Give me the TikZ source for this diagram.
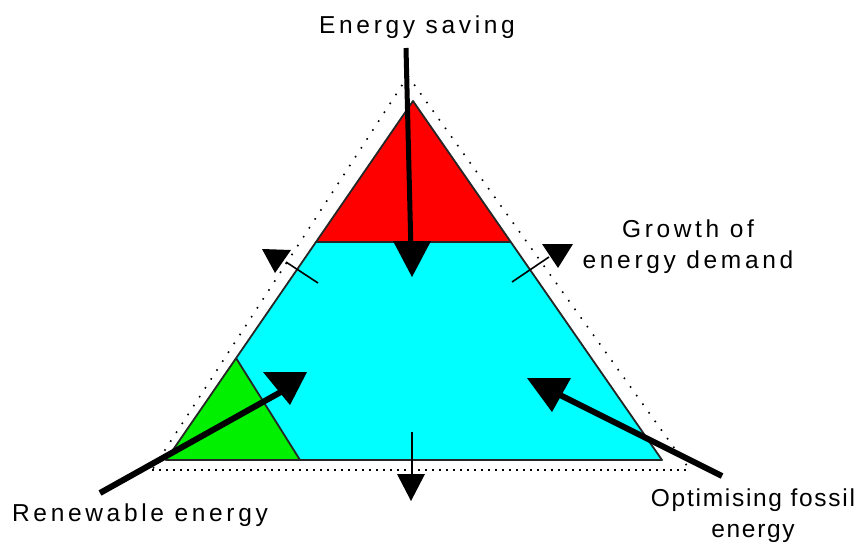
\documentclass[tikz,border=0pt]{standalone}
\usepackage{fontspec}
\setmainfont{Liberation Sans}[LetterSpace=15]
\newfontfamily\narrowlbl{Liberation Sans}[LetterSpace=7]
\definecolor{cyanfill}{RGB}{0,255,255}
\definecolor{redfill}{RGB}{255,0,0}
\definecolor{greenfill}{RGB}{0,240,0}
\begin{document}
\begin{tikzpicture}[x=1pt,y=-1pt,
  lbl/.style={font=\fontsize{24.5}{31}\selectfont, inner sep=0pt, align=center},
  nlbl/.style={font=\narrowlbl\fontsize{24.5}{31}\selectfont, inner sep=0pt, align=center},
  edge/.style={draw=black!85, line width=1.8pt, line join=round},
  dots/.style={draw=black, line width=1.6pt, dash pattern=on 1.6pt off 9pt},
  basedots/.style={draw=black, line width=1.8pt, dash pattern=on 2pt off 5pt},
  bigarrow/.style={draw=black, line width=6pt},
  thinarrow/.style={draw=black, line width=1.6pt},
  head/.style={fill=black}]
\useasboundingbox (0,0) rectangle (867,546);
% solid triangle corners
\coordinate (A) at (413,101);
\coordinate (BL) at (166,460);
\coordinate (BR) at (662,460);
\coordinate (RL) at (316,242);
\coordinate (RR) at (511,242);
\coordinate (GA) at (236,358);
\coordinate (GB) at (300,460);
% dotted triangle corners
\coordinate (DA) at (408,76);
\coordinate (DL) at (152,470);
\coordinate (DR) at (690,470);
% fills
\fill[cyanfill] (A) -- (BL) -- (BR) -- cycle;
\fill[redfill] (A) -- (RL) -- (RR) -- cycle;
\fill[greenfill] (GA) -- (BL) -- (GB) -- cycle;
% outlines
\draw[edge] (A) -- (BL) -- (BR) -- cycle;
\draw[edge] (RL) -- (RR);
\draw[edge] (GA) -- (GB);
% dotted triangle
\draw[dots] (DA) -- (DL);
\draw[dots] (DA) -- (DR);
\draw[basedots] (DL) -- (DR);
% labels
\node[lbl] (es) at (417,27) {Energy saving};
\node[lbl] (gr) at (688,247) {Growth of\\energy demand};
\node[lbl] (re) at (140,515) {Renewable energy};
\node[nlbl] (of) at (753,516) {Optimising fossil\\energy};
% energy saving arrow
\coordinate (esS) at (406,48);
\coordinate (esE) at (411,252);
\draw[line width=5pt] (esS) -- (esE);
\fill[head] (393,241) -- (431,241) -- (412,277) -- cycle;
% renewable arrow
\coordinate (reS) at (100,493);
\coordinate (reE) at (288,388);
\draw[bigarrow] (reS) -- (reE);
\fill[head] (263,372) -- (307,372) -- (290,405) -- cycle;
% fossil arrow
\coordinate (ofS) at (722,476);
\coordinate (ofE) at (556,393);
\draw[bigarrow] (ofS) -- (ofE);
\fill[head] (527,378) -- (571,378) -- (552,412) -- cycle;
% growth arrows
\coordinate (glS) at (318,283);
\coordinate (glE) at (286,262);
\draw[thinarrow] (glS) -- (glE);
\fill[head] (262,249) -- (291,250) -- (275,273) -- cycle;
\coordinate (grS) at (512,282);
\coordinate (grE) at (549,257);
\draw[thinarrow] (grS) -- (grE);
\fill[head] (542,244) -- (573,244) -- (558,268) -- cycle;
\coordinate (gbS) at (412,432);
\coordinate (gbE) at (412,478);
\draw[line width=2pt] (gbS) -- (gbE);
\fill[head] (397,474) -- (425,474) -- (411,501) -- cycle;
\end{tikzpicture}
\end{document}
